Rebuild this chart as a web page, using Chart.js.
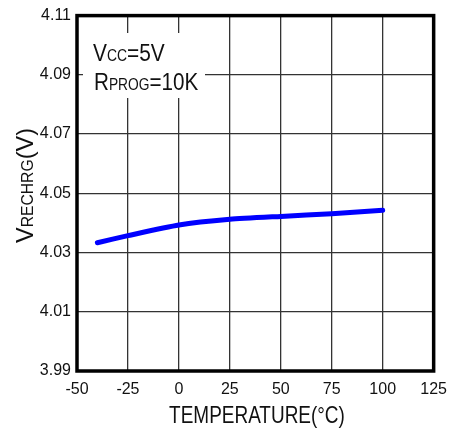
<html lang="en">
<head>
  <meta charset="UTF-8">
  <title>VRECHRG vs Temperature</title>
  <script src="https://cdn.jsdelivr.net/npm/chart.js"></script>
  <style>
    body { margin: 0; background: #fff; }
    #wrap { width: 456px; height: 429px; }
  </style>
</head>
<body>
  <div id="wrap"><canvas id="vChart" width="456" height="429"></canvas></div>

  <script>
    // values
    const temps = [-40, -25, 0, 25, 50, 75, 100];
    const vrechrg = [4.0333, 4.0357, 4.0393, 4.0412, 4.0422, 4.0431, 4.0443];
    const xTicks = [-50, -25, 0, 25, 50, 75, 100, 125];
    const yTicks = [3.99, 4.01, 4.03, 4.05, 4.07, 4.09, 4.11];

    const FONT = '"Liberation Sans", Arial, sans-serif';

    // draws a run of [text, size] pieces, squeezed horizontally by sx
    function drawRuns(ctx, runs, x, y, sx) {
      ctx.save();
      ctx.translate(x, y);
      ctx.scale(sx, 1);
      let cx = 0;
      runs.forEach(([t, size]) => {
        ctx.font = size + 'px ' + FONT;
        ctx.fillText(t, cx, 0);
        cx += ctx.measureText(t).width;
      });
      ctx.restore();
    }

    const decor = {
      id: 'decor',
      beforeDatasetsDraw(chart) {
        const ctx = chart.ctx;
        // white box for the note, cuts the grid
        ctx.save();
        ctx.fillStyle = '#fff';
        ctx.fillRect(83, 33, 122, 65);
        ctx.restore();
      },
      afterDraw(chart) {
        const ctx = chart.ctx;
        const a = chart.chartArea;
        ctx.save();
        ctx.strokeStyle = '#000';
        ctx.lineWidth = 3.5;
        ctx.strokeRect(a.left, a.top, a.right - a.left, a.bottom - a.top);

        ctx.fillStyle = '#111';
        ctx.textBaseline = 'alphabetic';
        drawRuns(ctx, [['V', 24], ['CC', 16], ['=5V', 24]], 93, 61, 0.87);
        drawRuns(ctx, [['R', 24], ['PROG', 16], ['=10K', 24]], 94, 90, 0.86);

        // x title
        ctx.font = '24px ' + FONT;
        const xt = 'TEMPERATURE(°C)';
        const w = ctx.measureText(xt).width * 0.79;
        drawRuns(ctx, [[xt, 24]], 257 - w / 2, 423, 0.79);

        // y title, rotated
        ctx.save();
        ctx.translate(33, 243);
        ctx.rotate(-Math.PI / 2);
        drawRuns(ctx, [['V', 24], ['RECHRG', 16], ['(V)', 24]], 0, 0, 0.98);
        ctx.restore();
        ctx.restore();
      }
    };

    new Chart(document.getElementById('vChart'), {
      type: 'line',
      data: {
        datasets: [{
          data: temps.map((t, i) => ({ x: t, y: vrechrg[i] })),
          borderColor: '#0000ff',
          borderWidth: 5,
          borderCapStyle: 'round',
          pointRadius: 0,
          tension: 0.2,
          fill: false
        }]
      },
      options: {
        responsive: false,
        animation: false,
        layout: { padding: { top: 13, right: 21, left: 0, bottom: 0 } },
        plugins: { legend: { display: false }, tooltip: { enabled: false } },
        scales: {
          x: {
            type: 'linear',
            min: xTicks[0],
            max: xTicks[xTicks.length - 1],
            afterBuildTicks: s => { s.ticks = xTicks.map(v => ({ value: v })); },
            afterFit: s => { s.height = 58; },
            grid: { color: '#333', lineWidth: 1.3, drawTicks: false },
            border: { display: false },
            ticks: { color: '#111', font: { size: 16, family: FONT }, padding: 9, maxRotation: 0 }
          },
          y: {
            type: 'linear',
            min: yTicks[0],
            max: yTicks[yTicks.length - 1],
            afterBuildTicks: s => { s.ticks = yTicks.map(v => ({ value: v })); },
            afterFit: s => { s.width = 77; },
            grid: { color: '#333', lineWidth: 1.3, drawTicks: false },
            border: { display: false },
            ticks: {
              color: '#111',
              font: { size: 16, family: FONT },
              padding: 6,
              callback: v => v.toFixed(2)
            }
          }
        }
      },
      plugins: [decor]
    });
  </script>
</body>
</html>
